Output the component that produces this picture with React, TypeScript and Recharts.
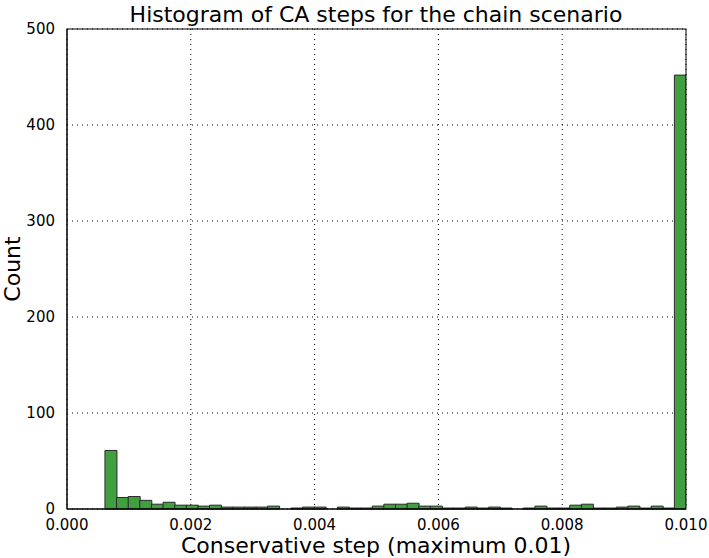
import React from 'react';
import { Bar, BarChart, CartesianGrid, XAxis, YAxis } from 'recharts';

// histogram: 50 bins from the smallest step up to the 0.01 cap
const binStart = 0.000613;
const binEnd = 0.01;
const counts = [
    61, 12, 13, 9, 5, 7, 4, 4, 3, 4,
    2, 2, 2, 2, 3, 0, 1, 2, 2, 0,
    2, 1, 1, 3, 5, 5, 6, 3, 3, 1,
    1, 2, 1, 2, 1, 0, 1, 3, 1, 1,
    4, 5, 1, 1, 2, 3, 1, 3, 1, 452,
];
const xTicks = [0, 0.002, 0.004, 0.006, 0.008, 0.01];
const yTicks = [0, 100, 200, 300, 400, 500];

const title = 'Histogram of CA steps for the chain scenario';
const xLabel = 'Conservative step (maximum 0.01)';
const yLabel = 'Count';

const binWidth = (binEnd - binStart) / counts.length;
const data = counts.map((count, i) => ({
    step: binStart + binWidth * (i + 0.5),
    count,
}));

const W = 709;
const H = 558;
const FONT = '"DejaVu Sans", sans-serif';
const M = { top: 29, right: 23, left: 0, bottom: 0 };
const Y_W = 67;
const X_H = 49;

export default function App() {
    return (
        <div style={{ position: 'absolute', left: 0, top: 0, width: W, height: H, background: '#fff' }}>
            <BarChart width={W} height={H} data={data} barCategoryGap={0} margin={M}>
                <CartesianGrid stroke="#000" strokeDasharray="1 4" strokeWidth={1} />
                <XAxis
                    dataKey="step"
                    type="number"
                    domain={[0, 0.01]}
                    ticks={xTicks}
                    tickFormatter={(v: number) => v.toFixed(3)}
                    allowDataOverflow
                    height={X_H}
                    stroke="#000"
                    tickLine={false}
                    tick={{ fill: '#000', fontSize: 15, fontFamily: FONT }}
                    tickMargin={4}
                />
                <YAxis
                    type="number"
                    domain={[0, 500]}
                    ticks={yTicks}
                    width={Y_W}
                    stroke="#000"
                    tickLine={false}
                    tick={{ fill: '#000', fontSize: 15, fontFamily: FONT }}
                    tickMargin={6}
                />
                <Bar
                    dataKey="count"
                    fill="#40a040"
                    stroke="#2a2a2a"
                    strokeWidth={1}
                    isAnimationActive={false}
                />
            </BarChart>
            <svg
                width={W}
                height={H}
                style={{ position: 'absolute', left: 0, top: 0, pointerEvents: 'none' }}
            >
                {/* axes frame */}
                <rect
                    x={M.left + Y_W}
                    y={M.top}
                    width={W - M.left - M.right - Y_W}
                    height={H - M.top - M.bottom - X_H}
                    fill="none"
                    stroke="#000"
                    strokeWidth={1}
                />
                <text x={376} y={22} textAnchor="middle" fontSize={22} fontFamily={FONT} fill="#000">
                    {title}
                </text>
                <text x={376} y={553} textAnchor="middle" fontSize={22} fontFamily={FONT} fill="#000">
                    {xLabel}
                </text>
                <text
                    x={20}
                    y={269}
                    textAnchor="middle"
                    fontSize={22}
                    fontFamily={FONT}
                    fill="#000"
                    transform="rotate(-90 20 269)"
                >
                    {yLabel}
                </text>
            </svg>
        </div>
    );
}
